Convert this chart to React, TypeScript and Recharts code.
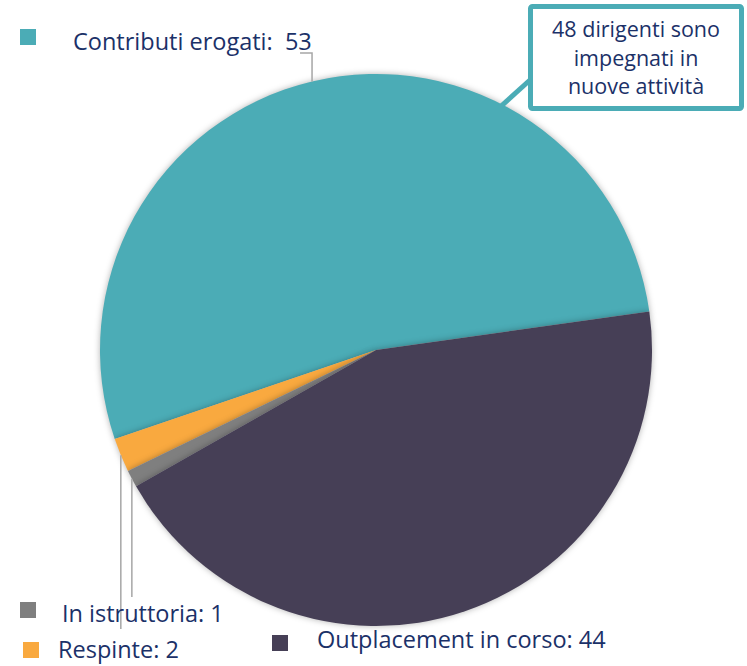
import { PieChart, Pie, Cell } from "recharts";

const categories = ["Contributi erogati", "Respinte", "In istruttoria", "Outplacement in corso"];
const values = [53, 2, 1, 44];
const labelTexts = ["Contributi erogati:  53", "Respinte: 2", "In istruttoria: 1", "Outplacement in corso: 44"];
const calloutLines = ["48 dirigenti sono", "impegnati in", "nuove attività"];

const COLORS = ["#4BACB6", "#F9A93F", "#7F7F7F", "#463F56"];
const TEXT = "#1B3168";
const FONT = "'Open Sans', 'Noto Sans', sans-serif";

// where each legend-like label sits, and where its leader line stops
const LABEL_LAYOUT = [
  { sq: [20, 29], tx: 73, ty: 50, lineY: 53, hook: -12 },
  { sq: [23, 642], tx: 58, ty: 658, lineY: 629, hook: 0 },
  { sq: [20, 602], tx: 62, ty: 622, lineY: 597, hook: 0 },
  { sq: [272, 635], tx: 317, ty: 648, lineY: null, hook: 0 },
];

const data = categories.map((name, i) => ({ name, value: values[i] }));

const RADIAN = Math.PI / 180;

const renderLabel = (props: any) => {
  const { cx, cy, midAngle, outerRadius, index } = props;
  const lay = LABEL_LAYOUT[index];
  const x0 = cx + outerRadius * Math.cos(-midAngle * RADIAN);
  const y0 = cy + outerRadius * Math.sin(-midAngle * RADIAN);
  return (
    <g key={`lbl-${index}`}>
      {lay.lineY !== null && (
        <polyline
          points={`${x0},${y0} ${x0},${lay.lineY} ${x0 + lay.hook},${lay.lineY}`}
          fill="none"
          stroke="#A6A6A6"
          strokeWidth={1.5}
        />
      )}
      <rect x={lay.sq[0]} y={lay.sq[1]} width={16} height={16} fill={COLORS[index]} />
      <text
        x={lay.tx}
        y={lay.ty}
        fill={TEXT}
        fontSize={23.5}
        fontFamily={FONT}
        style={{ whiteSpace: "pre" }}
      >
        {labelTexts[index]}
      </text>
    </g>
  );
};

export default function App() {
  return (
    <div style={{ position: "relative", width: 747, height: 666 }}>
      <style>{`body{margin:0} .recharts-pie-sector path{filter:drop-shadow(0px 0px 3px rgba(0,0,0,0.3));}`}</style>
      <PieChart width={747} height={666} margin={{ top: 0, right: 0, bottom: 0, left: 0 }}>
        <Pie
          data={data}
          dataKey="value"
          nameKey="name"
          cx={376}
          cy={350}
          outerRadius={276}
          startAngle={8}
          endAngle={368}
          stroke="none"
          label={renderLabel}
          labelLine={false}
          isAnimationActive={false}
        >
          {data.map((_, i) => (
            <Cell key={`cell-${i}`} fill={COLORS[i]} />
          ))}
        </Pie>
      </PieChart>
      <svg width={747} height={666} style={{ position: "absolute", left: 0, top: 0, pointerEvents: "none" }}>
        <line x1={530} y1={80} x2={499} y2={108} stroke="#4BACB6" strokeWidth={5} />
        <rect x={530.5} y={6.5} width={211} height={102} fill="#fff" stroke="#4BACB6" strokeWidth={5} rx={2} />
        {calloutLines.map((t, i) => (
          <text key={t} x={636} y={37 + i * 28.5} textAnchor="middle" fill={TEXT} fontSize={21.5} fontFamily={FONT}>
            {t}
          </text>
        ))}
      </svg>
    </div>
  );
}
